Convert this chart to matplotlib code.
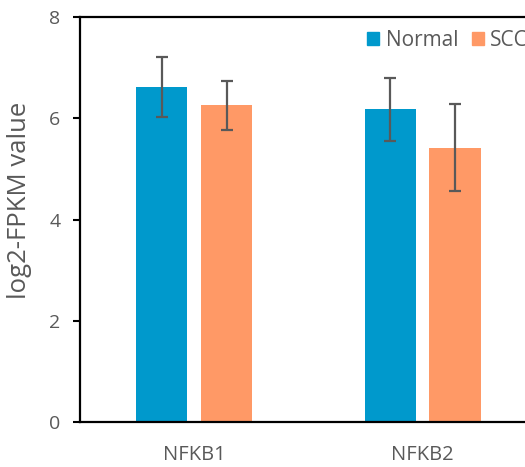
import numpy as np
import matplotlib.pyplot as plt
from matplotlib.patches import Patch

plt.rcParams['font.family'] = ['Open Sans', 'DejaVu Sans']

# data
genes = ['NFKB1', 'NFKB2']
normal_mean = [6.61, 6.17]
normal_err = [0.59, 0.63]
scc_mean = [6.25, 5.42]
scc_err = [0.49, 0.85]

blue = '#0099cc'
orange = '#ff9966'
grey = '#595959'

fig = plt.figure(figsize=(5.25, 4.67), dpi=100)
ax = fig.add_axes([0.1524, 0.0957, 0.87, 0.8685])

x = np.arange(len(genes))
w = 0.224
off = 0.142
ebar = dict(ecolor=grey, elinewidth=1.6, capsize=4.3, capthick=1.6)
ax.bar(x - off, normal_mean, w, yerr=normal_err, color=blue, error_kw=ebar, label='Normal')
ax.bar(x + off, scc_mean, w, yerr=scc_err, color=orange, error_kw=ebar, label='SCC')

ax.set_xlim(-0.5, 1.5)
ax.set_ylim(0, 8)
ax.set_yticks([0, 2, 4, 6, 8])
ax.set_xticks(x)
ax.set_xticklabels(genes, fontsize=14.5, color=grey)
ax.tick_params(axis='x', length=0, pad=16)
ax.tick_params(axis='y', length=5, width=1.5, direction='out', labelsize=14,
               labelcolor=grey, pad=9)
for s in ax.spines.values():
    s.set_linewidth(1.6)
    s.set_color('black')

ax.set_ylabel('log2-FPKM value', fontsize=18.5, color=grey, labelpad=10)
ax.yaxis.set_label_coords(-0.105, 0.548)

handles = [Patch(color=blue), Patch(color=orange)]
ax.legend(handles, ['Normal', 'SCC'], ncol=2, frameon=False, fontsize=15,
          labelcolor=grey, handlelength=0.6, handleheight=0.6, handletextpad=0.3,
          columnspacing=0.65, loc='center left', borderpad=0, borderaxespad=0,
          bbox_to_anchor=(0.628, 0.941))

fig.savefig('out.png', dpi=100)
